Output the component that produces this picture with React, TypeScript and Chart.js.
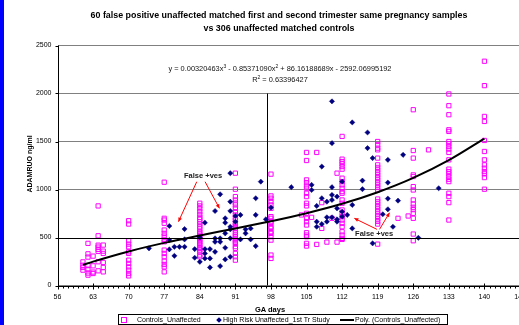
import React, { useEffect, useRef } from "react";
import { Chart, registerables } from "chart.js";

Chart.register(...registerables);

// ---- data ----
const controlDays = [61, 62, 63, 64, 65, 70, 77, 84, 91, 98, 105, 112, 119, 126, 133, 140];
const controlValues: number[][] = [
  [246, 211, 188, 160],
  [439, 330, 296, 207, 170, 130, 108],
  [306, 205, 140, 125],
  [829, 518, 420, 400, 376, 355, 247, 153],
  [421, 358, 334, 240, 188, 142],
  [675, 640, 466, 431, 403, 351, 334, 264, 230, 194, 160, 125, 100],
  [1076, 700, 682, 648, 578, 543, 515, 480, 455, 369, 334, 299, 254, 219, 194, 142],
  [857, 829, 800, 769, 740, 710, 690, 665, 640, 612, 590, 560, 543, 525, 508, 491, 473, 455, 439, 421, 400, 387, 370, 351, 317, 299],
  [1170, 1003, 926, 891, 860, 839, 804, 769, 735, 700, 682, 648, 630, 612, 595, 578, 550, 525, 508, 490, 473, 455, 439, 405, 387, 334, 299, 264],
  [1160, 933, 909, 873, 839, 804, 717, 700, 665, 648, 612, 595, 560, 543, 508, 473, 317, 282],
  [1386, 1302, 1100, 1072, 1037, 1013, 961, 926, 857, 829, 752, 700, 665, 630, 550, 525, 508, 439, 411],
  [1553, 1316, 1291, 1267, 1239, 1212, 1118, 1082, 1048, 1013, 978, 961, 891, 857, 787, 752, 717, 682, 648, 612, 560, 525, 491, 480],
  [1500, 1466, 1431, 1413, 1327, 1257, 1230, 1204, 1178, 1152, 1125, 1100, 1073, 1047, 1021, 995, 901, 875, 850, 823, 797, 771, 745, 720, 693, 667, 640, 431],
  [1831, 1406, 1327, 1152, 1135, 1030, 995, 891, 849, 815, 790, 752, 700, 536, 466],
  [1995, 1873, 1779, 1622, 1605, 1500, 1476, 1448, 1421, 1386, 1309, 1212, 1187, 1163, 1135, 1107, 1082, 961, 926, 863, 682],
  [2336, 2082, 1761, 1709, 1511, 1396, 1309, 1257, 1222, 1187, 1163, 1124, 1003],
];
const controlExtraDays = [104, 106, 107, 107, 108, 108, 109, 110, 111, 111, 123, 125, 129];
const controlExtraValues = [735, 710, 1386, 428, 863, 595, 452, 700, 1170, 452, 700, 724, 1413];

const highRiskDays = [
  74, 78, 78, 78, 79, 79, 80, 81, 81, 81, 83, 83, 84, 84, 85, 85, 85, 85, 86, 86, 86,
  87, 87, 87, 87, 88, 88, 88, 88, 89, 89, 89, 89, 89, 90, 90, 90, 90, 90, 90, 90,
  91, 91, 92, 92, 93, 93, 94, 94, 95, 95, 95, 96, 97, 98, 102, 106, 106, 107, 107, 107,
  108, 108, 108, 109, 109, 109, 110, 110, 110, 110, 110, 110, 111, 111, 111, 111, 112, 112, 112,
  113, 114, 114, 114, 116, 116, 117, 117, 118, 118, 120, 121, 121, 121, 121, 122, 123, 124, 127, 131,
];
const highRiskValues = [
  387, 620, 474, 376, 309, 403, 403, 588, 480, 403, 379, 289, 501, 247, 379, 334, 282, 654, 379, 282, 188,
  776, 491, 455, 351, 950, 491, 455, 202, 700, 654, 543, 393, 272, 1170, 873, 776, 612, 585, 491, 299,
  724, 665, 735, 480, 585, 543, 595, 480, 909, 735, 411, 1082, 689, 811, 1024, 1048, 995, 829, 665, 612,
  1239, 909, 640, 873, 710, 665, 1918, 1483, 1024, 943, 891, 710, 926, 804, 689, 665, 1082, 769, 717,
  735, 1699, 839, 595, 1093, 1003, 1594, 1431, 1327, 439, 742, 1309, 1072, 905, 794, 612, 884, 1361, 497, 1013,
];

// polynomial trend (Poly. Controls_Unaffected)
const trendDays = [61, 63, 70, 77, 84, 91, 98, 105, 112, 119, 126, 133, 140];
const trendValues = [215, 249, 355, 444, 521, 594, 669, 753, 851, 972, 1121, 1306, 1531];

const xMin = 56;
const xMax = 147;
const xStep = 7;
const yMin = 0;
const yMax = 2500;
const yStep = 500;

const cutoffDay = 97.3;
const cutoffTop = 2000;
const cutoffValue = 500;

const annotationTexts = [
  { text: "False +ves", day: 84.65, value: 1141 },
  { text: "False +ves", day: 118.3, value: 536 },
];
const annotationArrows = [
  { from: [83.4, 1081], to: [79.8, 665] },
  { from: [85.04, 1081], to: [87.86, 804] },
  { from: [118.85, 585], to: [114.4, 700] },
  { from: [119.36, 585], to: [121.33, 758] },
];

const FONT = "'Liberation Sans', Arial, Helvetica, sans-serif";

const decorPlugin = {
  id: "decor",
  afterDatasetsDraw(chart: any) {
    const { ctx, chartArea, scales } = chart;
    const xs = scales.x;
    const ys = scales.y;
    ctx.save();
    // vertical cutoff line
    ctx.strokeStyle = "#000";
    ctx.lineWidth = 1;
    const cx = Math.round(xs.getPixelForValue(cutoffDay)) + 0.5;
    ctx.beginPath();
    ctx.moveTo(cx, ys.getPixelForValue(cutoffTop));
    ctx.lineTo(cx, ys.getPixelForValue(yMin));
    ctx.stroke();
    // horizontal cutoff line
    const cy = Math.round(ys.getPixelForValue(cutoffValue)) + 0.5;
    ctx.beginPath();
    ctx.moveTo(chartArea.left, cy);
    ctx.lineTo(chartArea.right, cy);
    ctx.stroke();

    // arrows
    ctx.strokeStyle = "#ff0000";
    ctx.fillStyle = "#ff0000";
    annotationArrows.forEach((a) => {
      const x1 = xs.getPixelForValue(a.from[0]);
      const y1 = ys.getPixelForValue(a.from[1]);
      const x2 = xs.getPixelForValue(a.to[0]);
      const y2 = ys.getPixelForValue(a.to[1]);
      ctx.beginPath();
      ctx.moveTo(x1, y1);
      ctx.lineTo(x2, y2);
      ctx.stroke();
      const ang = Math.atan2(y2 - y1, x2 - x1);
      const L = 4.5;
      ctx.beginPath();
      ctx.moveTo(x2, y2);
      ctx.lineTo(x2 - L * Math.cos(ang - 0.45), y2 - L * Math.sin(ang - 0.45));
      ctx.lineTo(x2 - L * Math.cos(ang + 0.45), y2 - L * Math.sin(ang + 0.45));
      ctx.closePath();
      ctx.fill();
    });
    // annotation text
    ctx.fillStyle = "#222";
    ctx.font = `bold 7.5px ${FONT}`;
    ctx.textAlign = "center";
    ctx.textBaseline = "middle";
    annotationTexts.forEach((t) => {
      ctx.fillText(t.text, xs.getPixelForValue(t.day), ys.getPixelForValue(t.value));
    });

    // axis lines and ticks
    ctx.strokeStyle = "#000";
    const bottom = Math.round(ys.getPixelForValue(yMin)) + 0.5;
    const left = Math.round(xs.getPixelForValue(xMin)) + 0.5;
    ctx.beginPath();
    ctx.moveTo(left, ys.getPixelForValue(yMax));
    ctx.lineTo(left, bottom);
    ctx.lineTo(chartArea.right + 40, bottom);
    ctx.stroke();
    for (let d = xMin; d <= xMax; d++) {
      const px = Math.round(xs.getPixelForValue(d)) + 0.5;
      ctx.beginPath();
      if ((d - xMin) % xStep === 0) {
        ctx.moveTo(px, bottom - 3);
        ctx.lineTo(px, bottom + 3);
      } else {
        ctx.moveTo(px, bottom);
        ctx.lineTo(px, bottom + 2);
      }
      ctx.stroke();
    }
    for (let v = yMin; v <= yMax; v += yStep) {
      const py = Math.round(ys.getPixelForValue(v)) + 0.5;
      ctx.beginPath();
      ctx.moveTo(left - 3, py);
      ctx.lineTo(left, py);
      ctx.stroke();
    }
    ctx.restore();
  },
};

function ChartCanvas() {
  const ref = useRef<HTMLCanvasElement | null>(null);
  useEffect(() => {
    if (!ref.current) return;
    const controls: { x: number; y: number }[] = [];
    controlDays.forEach((d, i) => controlValues[i].forEach((v) => controls.push({ x: d, y: v })));
    controlExtraDays.forEach((d, i) => controls.push({ x: d, y: controlExtraValues[i] }));
    const highRisk = highRiskDays.map((d, i) => ({ x: d, y: highRiskValues[i] }));
    const trend = trendDays.map((d, i) => ({ x: d, y: trendValues[i] }));

    const chart = new Chart(ref.current, {
      type: "scatter",
      data: {
        datasets: [
          {
            label: "Poly. (Controls_Unaffected)",
            data: trend,
            showLine: true,
            borderColor: "#000",
            borderWidth: 2,
            pointRadius: 0,
            cubicInterpolationMode: "monotone",
          } as any,
          {
            label: "High Risk Unaffected_1st Tr Study",
            data: highRisk,
            pointStyle: "rectRot",
            pointRadius: 2.6,
            backgroundColor: "#000080",
            borderColor: "#000080",
            borderWidth: 0.5,
          },
          {
            label: "Controls_Unaffected",
            data: controls,
            pointStyle: "rect",
            pointRadius: 3,
            backgroundColor: "rgba(255,255,255,0)",
            borderColor: "#ff00ff",
            borderWidth: 1,
          },
        ],
      },
      options: {
        responsive: false,
        animation: false,
        events: [],
        layout: { padding: { top: 45.5, right: 40, bottom: 0, left: 0 } },
        plugins: { legend: { display: false }, tooltip: { enabled: false }, title: { display: false } },
        scales: {
          x: {
            type: "linear",
            min: xMin,
            max: xMax,
            afterFit: (s: any) => {
              s.height = 39.5;
            },
            grid: { display: false, drawTicks: false },
            border: { display: false },
            ticks: {
              stepSize: xStep,
              padding: 7,
              color: "#000",
              font: { family: FONT, size: 7 },
              maxRotation: 0,
              autoSkip: false,
              callback: (v: any) => String(v),
            },
          },
          y: {
            type: "linear",
            min: yMin,
            max: yMax,
            afterFit: (s: any) => {
              s.width = 57.5;
            },
            grid: {
              color: (c: any) => (c.tick && c.tick.value === cutoffValue ? "rgba(0,0,0,0)" : "#808080"),
              lineWidth: 1,
              drawTicks: false,
            },
            border: { display: false },
            ticks: {
              stepSize: yStep,
              padding: 6,
              color: "#000",
              font: { family: FONT, size: 7 },
              callback: (v: any) => String(v),
            },
          },
        },
      },
      plugins: [decorPlugin],
    });
    return () => chart.destroy();
  }, []);
  return <canvas ref={ref} width={560} height={325} style={{ position: "absolute", left: 0, top: 0, width: 560, height: 325 }} />;
}

export default function App() {
  const txt: React.CSSProperties = { position: "absolute", fontFamily: FONT, color: "#000", whiteSpace: "nowrap" };
  const sup: React.CSSProperties = { fontSize: 5, lineHeight: 0 };
  return (
    <div style={{ position: "fixed", left: 0, top: 0, width: 519, height: 325, overflow: "hidden", background: "#fff" }}>
      <ChartCanvas />
      <div style={{ position: "absolute", left: 0, top: 0, width: 4, height: 325, background: "#0000ff" }} />
      <div style={{ ...txt, left: 0, width: 558, top: 9, textAlign: "center", fontWeight: "bold", fontSize: 8.9, lineHeight: "12.5px" }}>
        60 false positive unaffected matched first and second trimester same pregnancy samples
        <br />
        vs 306 unaffected matched controls
      </div>
      <div style={{ ...txt, left: 0, width: 560, top: 62.5, textAlign: "center", fontSize: 7.4, lineHeight: "11px", color: "#111" }}>
        y = 0.00320463x<sup style={sup}>3</sup> - 0.85371090x<sup style={sup}>2</sup> + 86.16188689x - 2592.06995192
        <br />
        R<sup style={sup}>2</sup> = 0.63396427
      </div>
      <div
        style={{
          ...txt,
          left: 29,
          top: 164,
          transform: "translate(-50%, -50%) rotate(-90deg)",
          fontWeight: "bold",
          fontSize: 7,
        }}
      >
        ADAMRUO ng/ml
      </div>
      <div style={{ ...txt, left: 270, top: 309, transform: "translate(-50%, -50%)", fontWeight: "bold", fontSize: 7.5 }}>GA days</div>
      <div
        style={{
          position: "absolute",
          left: 118,
          top: 314,
          width: 328,
          height: 9,
          border: "1px solid #000",
          background: "#fff",
          fontFamily: FONT,
          fontSize: 7,
          lineHeight: "9px",
          whiteSpace: "nowrap",
        }}
      >
        <span style={{ position: "absolute", left: 2, top: 2, width: 4, height: 4, border: "1px solid #ff00ff" }} />
        <span style={{ position: "absolute", left: 18, top: 0 }}>Controls_Unaffected</span>
        <span
          style={{ position: "absolute", left: 98, top: 2.5, width: 4, height: 4, background: "#000080", transform: "rotate(45deg)" }}
        />
        <span style={{ position: "absolute", left: 104, top: 0 }}>High Risk Unaffected_1st Tr Study</span>
        <span style={{ position: "absolute", left: 221, top: 4, width: 14, height: 1.5, background: "#000" }} />
        <span style={{ position: "absolute", left: 236, top: 0 }}>Poly. (Controls_Unaffected)</span>
      </div>
    </div>
  );
}
